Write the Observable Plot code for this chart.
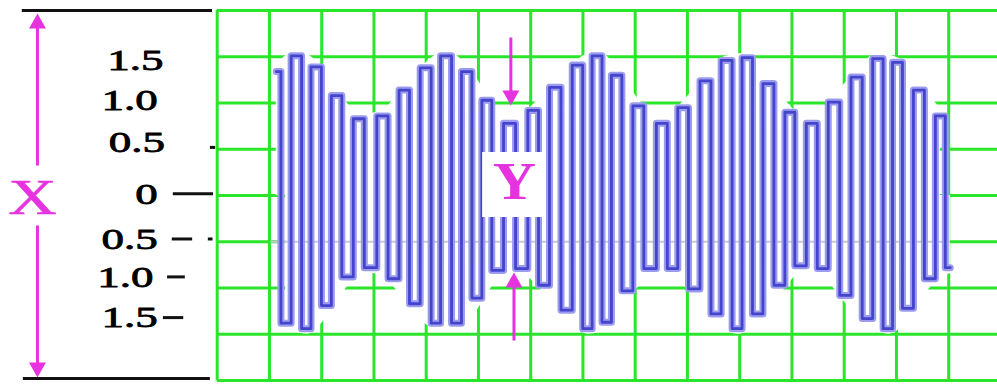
<!DOCTYPE html>
<html>
<head>
<meta charset="utf-8">
<script src="https://cdn.jsdelivr.net/npm/d3@7"></script>
<script src="https://cdn.jsdelivr.net/npm/@observablehq/plot@0.6"></script>
<style>
html, body { margin: 0; padding: 0; background: #fff; }
#chart svg { display: block; }
</style>
</head>
<body>
<div id="chart"></div>
<script>
// ---- data (time in grid divisions, level in volts) ----
const peakTime   = [1.13,1.52,1.88,2.26,2.70,3.18,3.60,4.01,4.37,4.75,5.13,5.58,6.05,6.47,6.90,7.26,
                    7.62,8.04,8.52,8.92,9.36,9.75,10.13,10.53,10.95,11.39,11.81,12.24,12.64,13.00,13.42,13.84];
const peakLevel  = [1.34,1.51,1.39,1.08,0.83,0.86,1.14,1.38,1.51,1.34,1.03,0.78,0.92,1.17,1.41,1.51,
                    1.30,0.97,0.78,0.95,1.24,1.46,1.49,1.21,0.90,0.78,1.01,1.28,1.48,1.44,1.14,0.86];
const troughTime = [1.31,1.71,2.11,2.51,2.93,3.36,3.76,4.18,4.60,5.00,5.38,5.84,6.25,6.69,7.09,7.47,
                    7.87,8.29,8.71,9.12,9.54,9.96,10.36,10.78,11.16,11.58,12.02,12.45,12.85,13.23,13.65,14.03];
const troughLevel= [-1.38,-1.44,-1.19,-0.88,-0.78,-0.90,-1.17,-1.38,-1.38,-1.11,-0.81,-0.79,-0.97,-1.24,-1.44,-1.37,
                    -1.03,-0.79,-0.79,-1.01,-1.28,-1.44,-1.28,-0.97,-0.76,-0.79,-1.08,-1.33,-1.44,-1.22,-0.90,-0.78];

// tick labels of the left scale, and where they sit
const tickLabels      = ["1.5","1.0","0.5","0","0.5","1.0","1.5"];
const tickLabelLevel  = [1.46, 1.03, 0.576, 0.01, -0.47, -0.88, -1.316];
const tickLabelRight  = [-1.03, -1.14, -1.0, -1.14, -1.14, -1.22, -1.14];
// short black dashes beside the labels
const dashLevel = [0.018, -0.47, -0.88, -1.32, 0.52, -0.47];
const dashFrom  = [-0.84, -0.86, -0.95, -1.03, -0.13, -0.17];
const dashTo    = [-0.07, -0.47, -0.61, -0.64, -0.03, -0.08];

// grid divisions
const gridLevels = d3.range(-2, 2.01, 0.5);
const gridTimes  = d3.range(0, 15, 1);

// annotations
const xArrowTime = -3.44;
const yArrowTime = [5.62, 5.68];
const yBox = {x1: 5.08, x2: 6.245, y1: 0.465, y2: -0.238};

// ---- build tables ----
const peaks   = peakTime.map((t, i) => ({t, v: peakLevel[i]}));
const troughs = troughTime.map((t, i) => ({t, v: troughLevel[i]}));
const wave = [...peaks, ...troughs].sort((a, b) => a.t - b.t);
const labels = tickLabels.map((label, i) => ({label, x: tickLabelRight[i], y: tickLabelLevel[i]}));
const dashes = dashLevel.map((y, i) => ({y, x1: dashFrom[i], x2: dashTo[i]}));

const shafts = [
  {x1: xArrowTime, y1: 1.90, x2: xArrowTime, y2: 0.324},
  {x1: xArrowTime, y1: -0.324, x2: xArrowTime, y2: -1.90},
  {x1: yArrowTime[0], y1: 1.708, x2: yArrowTime[0], y2: 1.05},
  {x1: yArrowTime[1], y1: -1.568, x2: yArrowTime[1], y2: -0.90}
];
const headsUp   = [{x: xArrowTime, y: 1.968}, {x: yArrowTime[1], y: -0.832}];
const headsDown = [{x: xArrowTime, y: -1.968}, {x: yArrowTime[0], y: 0.973}];

const triUp = {draw(ctx, size) { const r = Math.sqrt(size / Math.PI); const h = 2.3 * r, w = 1.3 * r;
  ctx.moveTo(0, 0); ctx.lineTo(w, h); ctx.lineTo(-w, h); ctx.closePath(); }};
const triDown = {draw(ctx, size) { const r = Math.sqrt(size / Math.PI); const h = 2.3 * r, w = 1.3 * r;
  ctx.moveTo(0, 0); ctx.lineTo(w, -h); ctx.lineTo(-w, -h); ctx.closePath(); }};

const green = "#2ae62a";
const magenta = "#e633df";
const serif = "Liberation Serif, Times New Roman, serif";

const svg = Plot.plot({
  width: 997,
  height: 385,
  marginLeft: 216.7,
  marginRight: 0,
  marginTop: 10,
  marginBottom: 5,
  x: {domain: [0, (997 - 216.7) / 52.25], axis: null},
  y: {domain: [-2, 2], axis: null},
  marks: [
    // green grid
    Plot.ruleY(gridLevels, {x1: 0, x2: 14.94, stroke: green, strokeWidth: 3}),
    Plot.ruleX(gridTimes, {y1: -2, y2: 2, stroke: green, strokeWidth: 3}),
    // white backing of the trace
    Plot.areaY(peaks, {x: "t", y: "v", fill: "white", curve: "monotone-x"}),
    Plot.areaY(troughs, {x: "t", y: "v", fill: "white", curve: "monotone-x"}),
    Plot.line(peaks, {x: "t", y: "v", stroke: "white", strokeWidth: 10, strokeLinecap: "butt", curve: "monotone-x"}),
    Plot.line(troughs, {x: "t", y: "v", stroke: "white", strokeWidth: 10, strokeLinecap: "butt", curve: "monotone-x"}),
    // faint graticule inside the trace
    Plot.ruleY([-0.5], {x1: peakTime[0] - 0.1, x2: troughTime[troughTime.length - 1], stroke: "#c9c9d2", strokeWidth: 2}),
    // the trace
    Plot.line(wave, {x: "t", y: "v", curve: "step", stroke: "#9c9cee", strokeWidth: 7, strokeLinejoin: "round"}),
    Plot.line(wave, {x: "t", y: "v", curve: "step", stroke: "#4444cc", strokeWidth: 2.8, strokeLinejoin: "round"}),
    // Y box and label
    Plot.rect([yBox], {x1: "x1", x2: "x2", y1: "y1", y2: "y2", fill: "white"}),
    Plot.text(["Y"], {x: 5.69, y: 0.151, text: d => d, fontFamily: serif, fontSize: 53, fontWeight: "bold", fill: magenta, textAnchor: "middle"}),
    // arrows
    Plot.link(shafts, {x1: "x1", y1: "y1", x2: "x2", y2: "y2", stroke: magenta, strokeWidth: 3}),
    Plot.dot(headsUp, {x: "x", y: "y", symbol: triUp, r: 6.5, fill: magenta, stroke: "none"}),
    Plot.dot(headsDown, {x: "x", y: "y", symbol: triDown, r: 6.5, fill: magenta, stroke: "none"}),
    Plot.text(["X"], {x: -3.535, y: -0.03, text: d => d, fontFamily: serif, fontSize: 50, fill: magenta, stroke: magenta, strokeWidth: 0.6, textAnchor: "middle"}),
    // black end lines
    Plot.ruleY([2], {x1: -3.73, x2: -0.09, stroke: "#111", strokeWidth: 3}),
    Plot.ruleY([-1.978], {x1: -3.71, x2: -0.13, stroke: "#111", strokeWidth: 3}),
    // scale labels and dashes
    Plot.text(labels, {x: "x", y: "y", text: "label", textAnchor: "end", fontFamily: serif, fontSize: 30, fill: "#000", stroke: "#000", strokeWidth: 0.8}),
    Plot.ruleY(dashes, {y: "y", x1: "x1", x2: "x2", stroke: "#111", strokeWidth: 3})
  ]
});

// horizontal stretch of the lettering, as in the picture
const stretch = {"30": 1.5, "50": 1.34, "53": 1.13};
d3.select(svg).selectAll("text").each(function () {
  let el = this, fs = null;
  while (el && el !== svg) {
    const a = el.getAttribute && el.getAttribute("font-size");
    if (a) { fs = String(parseFloat(a)); break; }
    el = el.parentNode;
  }
  const sx = stretch[fs];
  if (!sx) return;
  const t = this.getAttribute("transform");
  if (t) {
    this.setAttribute("transform", t + ` scale(${sx},1)`);
  } else {
    const x = +this.getAttribute("x") || 0, y = +this.getAttribute("y") || 0;
    this.removeAttribute("x"); this.removeAttribute("y");
    this.setAttribute("transform", `translate(${x},${y}) scale(${sx},1)`);
  }
});

document.getElementById("chart").appendChild(svg);
</script>
</body>
</html>
